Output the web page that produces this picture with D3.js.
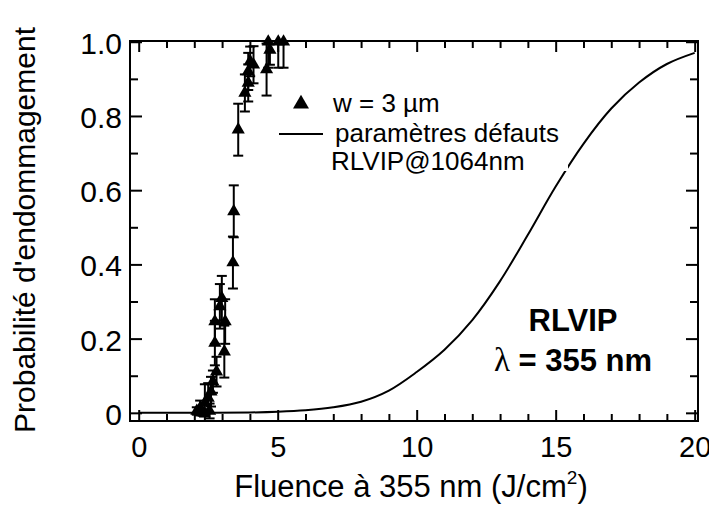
<!DOCTYPE html>
<html>
<head>
<meta charset="utf-8">
<script src="https://cdn.jsdelivr.net/npm/d3@7"></script>
<style>
  body { margin: 0; background: #fff; }
  text { font-family: "Liberation Sans", Arial, sans-serif; fill: #000; }
</style>
</head>
<body>
<div id="chart"></div>
<script>
let width = 709;
let height = 516;

// measured points: fluence, probability, error
let fluence = [2.09, 2.21, 2.35, 2.38, 2.50, 2.55, 2.60, 2.67, 2.80, 2.74, 3.08, 2.74, 3.11, 2.92, 2.99, 3.39, 3.42, 3.58, 3.82, 3.94, 3.94, 4.13, 4.01, 4.60, 4.72, 4.66, 5.02, 5.21];
let prob    = [0.005, 0.013, 0.0, 0.027, 0.04, 0.005, 0.057, 0.084, 0.111, 0.188, 0.165, 0.246, 0.246, 0.287, 0.309, 0.405, 0.543, 0.763, 0.862, 0.889, 0.92, 0.938, 0.947, 0.925, 0.978, 1.0, 1.0, 1.0];
let errBar  = [0.01, 0.02, 0.01, 0.05, 0.04, 0.02, 0.04, 0.03, 0.04, 0.06, 0.07, 0.06, 0.06, 0.06, 0.06, 0.07, 0.07, 0.07, 0.05, 0.05, 0.05, 0.05, 0.04, 0.07, 0.04, 0.07, 0.07, 0.07];

// model curve (paramètres défauts RLVIP@1064nm)
let curveX = [0, 2, 4, 5, 6, 7, 8, 9, 10, 11, 12, 13, 14, 15, 16, 17, 18, 19, 20];
let curveP = [0, 0, 0.001, 0.003, 0.007, 0.015, 0.03, 0.06, 0.11, 0.17, 0.25, 0.355, 0.48, 0.61, 0.725, 0.82, 0.89, 0.94, 0.97];

let xMajor = [0, 5, 10, 15, 20];
let xMinor = d3.range(1, 20).filter(d => d % 5 !== 0);
let yMajor = [0, 0.2, 0.4, 0.6, 0.8, 1.0];
let yLabels = ["0", "0.2", "0.4", "0.6", "0.8", "1.0"];
let yMinor = [0.1, 0.3, 0.5, 0.7, 0.9];

let margin = ({top: 41, right: 11, bottom: 95, left: 130});

let svg = d3.select("#chart").append("svg")
    .attr("width", width)
    .attr("height", height);

let x = d3.scaleLinear().domain([-0.313, 20.12]).range([margin.left, width - margin.right]);
let y = d3.scaleLinear().domain([-0.022, 1.002]).range([height - margin.bottom, margin.top]);

// model curve
let line = d3.line()
    .x((d, i) => x(curveX[i]))
    .y(d => y(d))
    .curve(d3.curveCatmullRom.alpha(0.5));

svg.append("path")
    .attr("d", line(curveP))
    .attr("fill", "none")
    .attr("stroke", "#000")
    .attr("stroke-width", 2);

// legend background hides the curve behind it
svg.append("rect")
    .attr("x", 285).attr("y", 88)
    .attr("width", 283).attr("height", 83)
    .attr("fill", "#fff");

// clip for error bars
svg.append("clipPath").attr("id", "plotClip")
    .append("rect")
    .attr("x", margin.left).attr("y", margin.top)
    .attr("width", width - margin.right - margin.left)
    .attr("height", height - margin.bottom - margin.top);

let pts = fluence.map((f, i) => ({f: f, p: prob[i], e: errBar[i]}));

let eb = svg.append("g").attr("clip-path", "url(#plotClip)")
    .attr("stroke", "#000").attr("stroke-width", 2);

eb.selectAll(".bar").data(pts).enter().append("line")
    .attr("x1", d => x(d.f)).attr("x2", d => x(d.f))
    .attr("y1", d => y(d.p - d.e)).attr("y2", d => y(d.p + d.e));

eb.selectAll(".capLo").data(pts).enter().append("line")
    .attr("x1", d => x(d.f) - 5).attr("x2", d => x(d.f) + 5)
    .attr("y1", d => y(d.p - d.e)).attr("y2", d => y(d.p - d.e));

eb.selectAll(".capHi").data(pts).enter().append("line")
    .attr("x1", d => x(d.f) - 5).attr("x2", d => x(d.f) + 5)
    .attr("y1", d => y(d.p + d.e)).attr("y2", d => y(d.p + d.e));

let tri = d3.symbol().type(d3.symbolTriangle).size(75);

svg.selectAll(".pt").data(pts).enter().append("path")
    .attr("d", tri)
    .attr("transform", d => "translate(" + x(d.f) + "," + y(d.p) + ")")
    .attr("fill", "#000");

// axes, ticks inward on all four sides
let bottom = height - margin.bottom;
let right = width - margin.right;
let font = "Liberation Sans, Arial, sans-serif";

svg.append("g").attr("transform", "translate(0," + bottom + ")")
    .call(d3.axisBottom(x).tickValues(xMajor).tickSizeInner(-11).tickSizeOuter(0).tickPadding(15).tickFormat(d3.format("d")))
    .call(g => g.selectAll("text").attr("font-size", 29).attr("font-family", font));
svg.append("g").attr("transform", "translate(0," + bottom + ")")
    .call(d3.axisBottom(x).tickValues(xMinor).tickSizeInner(-7).tickSizeOuter(0).tickFormat(""));
svg.append("g").attr("transform", "translate(0," + margin.top + ")")
    .call(d3.axisTop(x).tickValues(xMajor).tickSizeInner(-11).tickSizeOuter(0).tickFormat(""));
svg.append("g").attr("transform", "translate(0," + margin.top + ")")
    .call(d3.axisTop(x).tickValues(xMinor).tickSizeInner(-7).tickSizeOuter(0).tickFormat(""));

svg.append("g").attr("transform", "translate(" + margin.left + ",0)")
    .call(d3.axisLeft(y).tickValues(yMajor).tickSizeInner(-12).tickSizeOuter(0).tickPadding(8).tickFormat((d, i) => yLabels[i]))
    .call(g => g.selectAll("text").attr("font-size", 30).attr("font-family", font).attr("dy", "0.38em"));
svg.append("g").attr("transform", "translate(" + margin.left + ",0)")
    .call(d3.axisLeft(y).tickValues(yMinor).tickSizeInner(-8).tickSizeOuter(0).tickFormat(""));
svg.append("g").attr("transform", "translate(" + right + ",0)")
    .call(d3.axisRight(y).tickValues(yMajor).tickSizeInner(-12).tickSizeOuter(0).tickFormat(""));
svg.append("g").attr("transform", "translate(" + right + ",0)")
    .call(d3.axisRight(y).tickValues(yMinor).tickSizeInner(-8).tickSizeOuter(0).tickFormat(""));

svg.selectAll(".domain").remove();
svg.selectAll(".tick line").attr("stroke", "#000").attr("stroke-width", 2);

// frame
svg.append("rect")
    .attr("x", margin.left).attr("y", margin.top)
    .attr("width", right - margin.left).attr("height", bottom - margin.top)
    .attr("fill", "none").attr("stroke", "#000").attr("stroke-width", 2);

// axis titles
let xt = svg.append("text")
    .attr("x", 411).attr("y", 497)
    .attr("text-anchor", "middle").attr("font-size", 31);
xt.append("tspan").text("Fluence à 355 nm (J/cm");
xt.append("tspan").attr("font-size", 19).attr("dy", -13).text("2");
xt.append("tspan").attr("dy", 13).text(")");

svg.append("text")
    .attr("transform", "translate(35,230) rotate(-90)")
    .attr("text-anchor", "middle").attr("font-size", 30)
    .text("Probabilité d'endommagement");

// legend
svg.append("path")
    .attr("d", d3.symbol().type(d3.symbolTriangle).size(110))
    .attr("transform", "translate(301,104)")
    .attr("fill", "#000");
svg.append("text").attr("x", 333).attr("y", 112).attr("font-size", 26).text("w = 3 µm");
svg.append("line")
    .attr("x1", 279).attr("x2", 323).attr("y1", 134).attr("y2", 134)
    .attr("stroke", "#000").attr("stroke-width", 2);
svg.append("text").attr("x", 335).attr("y", 142).attr("font-size", 26).text("paramètres défauts");
svg.append("text").attr("x", 331).attr("y", 170).attr("font-size", 26).text("RLVIP@1064nm");

// annotation
svg.append("text")
    .attr("x", 573).attr("y", 331)
    .attr("text-anchor", "middle").attr("font-size", 31).attr("font-weight", "bold")
    .text("RLVIP");
let lam = svg.append("text")
    .attr("x", 573).attr("y", 371)
    .attr("text-anchor", "middle").attr("font-size", 31).attr("font-weight", "bold");
lam.append("tspan").attr("font-family", "Liberation Serif, serif").attr("font-weight", "normal").attr("font-size", 33).text("λ");
lam.append("tspan").text(" = 355 nm");
</script>
</body>
</html>
